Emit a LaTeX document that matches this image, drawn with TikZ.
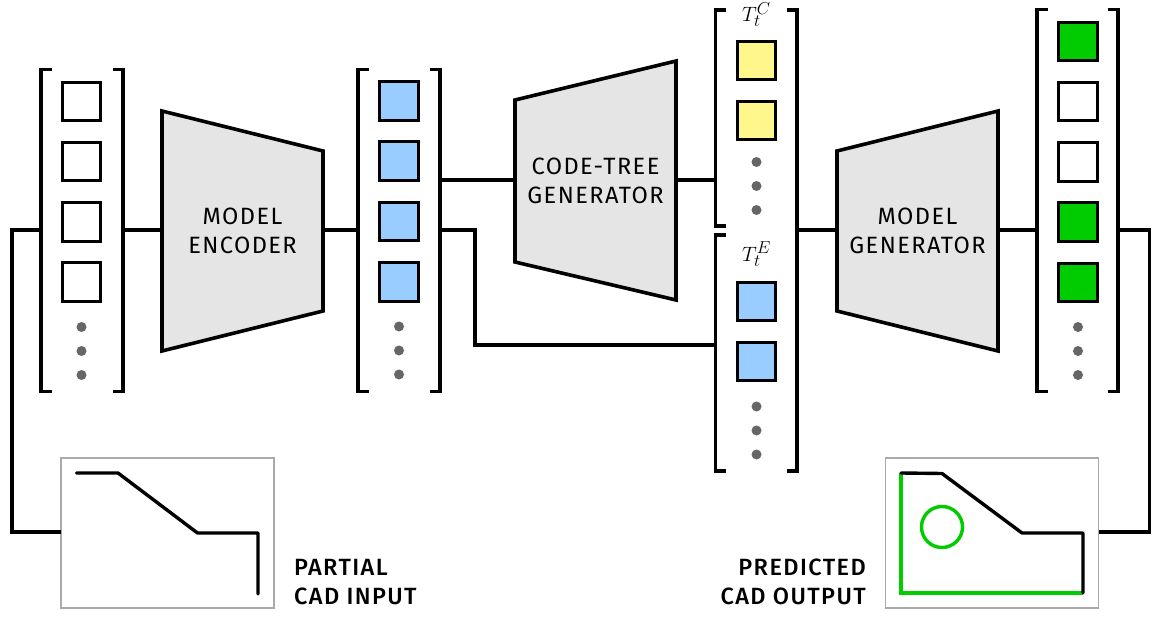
\documentclass[tikz,border=0pt]{standalone}
\usepackage{fontspec}
\setmainfont{Fira Sans}
\newfontfamily\lblfont[LetterSpace=6]{Fira Sans}
\newfontfamily\capfont[LetterSpace=6]{Fira Sans Medium}
\DeclareMathSizes{20}{20.74}{17.28}{14.4}
\definecolor{bluefill}{HTML}{99CCFF}
\definecolor{yellowfill}{HTML}{FFF68C}
\definecolor{greenfill}{HTML}{00CC00}
\definecolor{trapfill}{HTML}{E5E5E5}
\definecolor{dotgray}{HTML}{666666}
\definecolor{framegray}{HTML}{AAAAAA}
\tikzset{
  wire/.style={line width=3.4pt,line join=miter},
  sq/.style={draw=black,line width=3pt,minimum size=38.5pt,inner sep=0pt,outer sep=0pt},
  sqw/.style={sq,fill=white},
  sqb/.style={sq,fill=bluefill},
  sqy/.style={sq,fill=yellowfill},
  sqg/.style={sq,fill=greenfill},
  vdot/.style={circle,fill=dotgray,minimum size=10pt,inner sep=0pt,outer sep=0pt},
  colbox/.style={inner sep=0pt,outer sep=0pt,minimum width=#1},
  trap/.style={draw=black,fill=trapfill,line width=3.6pt,line join=miter},
  traplabel/.style={inner sep=0pt,outer sep=0pt,minimum width=161pt,minimum height=160pt,align=center,
    font=\fontsize{23.6}{28.5}\selectfont\lblfont},
  frame/.style={draw=framegray,line width=1.4pt,fill=white,inner sep=0pt,outer sep=0pt,minimum width=213pt,minimum height=150pt},
  sideflabel/.style={inner sep=0pt,font=\fontsize{23.5}{29}\selectfont\capfont},
  treelabel/.style={inner sep=0pt,font=\fontsize{20}{22}\selectfont},
  sketch/.style={line width=3.4pt,line cap=round,line join=round},
  greensketch/.style={draw=greenfill,line width=3.4pt,line cap=butt,line join=miter}
}
\newcommand{\colbracket}[4]{% x left, x right, y top, y bottom
  \draw[wire] (#1+10.5,#3) -- (#1,#3) -- (#1,#4) -- (#1+10.5,#4);
  \draw[wire] (#2-10.5,#3) -- (#2,#3) -- (#2,#4) -- (#2-10.5,#4);}
\begin{document}
\begin{tikzpicture}[x=1pt,y=-1pt]
\useasboundingbox (0,0) rectangle (1154,617);
\fill[white] (0,0) rectangle (1154,617);

% column anchors
\node[colbox=82pt,minimum height=322pt] (c1) at (82,230) {};
\node[colbox=82pt,minimum height=322pt] (c2) at (399,230) {};
\node[colbox=81.5pt,minimum height=461pt] (c3) at (756.25,240.5) {};
\node[colbox=81pt,minimum height=382pt] (c4) at (1077.5,200.5) {};

% column 1
\colbracket{41}{123}{69.5}{391.5}
\node[sqw] (a1) at (81.5,101.5) {};
\node[sqw] (a2) at (81.5,161.5) {};
\node[sqw] (a3) at (81.5,222) {};
\node[sqw] (a4) at (81.5,282) {};
\node[vdot] (ad1) at (81.5,327) {};
\node[vdot] (ad2) at (81.5,351) {};
\node[vdot] (ad3) at (81.5,375) {};

% column 2
\colbracket{358}{440}{69.5}{391.5}
\node[sqb] (b1) at (399,101) {};
\node[sqb] (b2) at (399,161) {};
\node[sqb] (b3) at (399,221.5) {};
\node[sqb] (b4) at (399,282) {};
\node[vdot] (bd1) at (399,326.5) {};
\node[vdot] (bd2) at (399,350.5) {};
\node[vdot] (bd3) at (399,374.5) {};

% column 3 (two left brackets, one right bracket)
\draw[wire] (726,10) -- (715.5,10) -- (715.5,226) -- (726,226);
\draw[wire] (726,235) -- (715.5,235) -- (715.5,471) -- (726,471);
\draw[wire] (787,10) -- (797,10) -- (797,471) -- (787,471);
\node[treelabel] (tc) at (756.5,14.5) {$T_t^C$};
\node[sqy] (y1) at (756.5,60.5) {};
\node[sqy] (y2) at (756.5,120.5) {};
\node[vdot] (yd1) at (756.5,162) {};
\node[vdot] (yd2) at (756.5,186) {};
\node[vdot] (yd3) at (756.5,210) {};
\node[treelabel] (te) at (756.5,254) {$T_t^E$};
\node[sqb] (e1) at (756.5,301.5) {};
\node[sqb] (e2) at (756.5,361.5) {};
\node[vdot] (ed1) at (756.5,406.5) {};
\node[vdot] (ed2) at (756.5,430.5) {};
\node[vdot] (ed3) at (756.5,454.5) {};

% column 4
\colbracket{1037}{1118}{9.5}{391.5}
\node[sqg] (g1) at (1078,41.5) {};
\node[sqw] (g2) at (1078,101.5) {};
\node[sqw] (g3) at (1078,162) {};
\node[sqg] (g4) at (1078,222) {};
\node[sqg] (g5) at (1078,282.5) {};
\node[vdot] (gd1) at (1078,327) {};
\node[vdot] (gd2) at (1078,351) {};
\node[vdot] (gd3) at (1078,375) {};

% trapezoids
\draw[trap] (162,111) -- (323,151) -- (323,311) -- (162,351) -- cycle;
\draw[trap] (515,100) -- (676,61) -- (676,300) -- (515,262) -- cycle;
\draw[trap] (837,151) -- (998,111) -- (998,351) -- (837,311) -- cycle;
\node[traplabel] (enc) at (242.5,231) {MODEL\\ENCODER};
\node[traplabel] (gen) at (595.5,181) {CODE-TREE\\GENERATOR};
\node[traplabel] (dec) at (917.5,231) {MODEL\\GENERATOR};

% CAD frames
\node[frame] (inp) at (167.5,533) {};
\node[frame] (out) at (992,533) {};
\draw[sketch] (76.5,473) -- (118,473) -- (197.5,533) -- (258,533) -- (258,594);
\draw[greensketch] (901,473) -- (901,593) -- (1083,593);
\draw[greensketch] (942,527) circle (20.5);
\draw[sketch] (901,473) -- (942,473.5) -- (1022,533) -- (1083,533) -- (1083,593);

\node[sideflabel,anchor=west] (l1) at (294,567) {PARTIAL};
\node[sideflabel,anchor=west] (l2) at (294,596) {CAD INPUT};
\node[sideflabel,anchor=east] (l3) at (866,567) {PREDICTED};
\node[sideflabel,anchor=east] (l4) at (866,596) {CAD OUTPUT};

% connectors
\coordinate (lb) at (12,230);
\coordinate (lc) at (12,532);
\coordinate (rb) at (1149.5,230);
\coordinate (rc) at (1149.5,532);
\coordinate (ma) at (475,230);
\coordinate (mb) at (475,345);
\draw[wire] (c1.west) -- (lb) -- (lc) -- (lc -| inp.west);
\draw[wire] (c1.east) -- (c1.east -| enc.west);
\draw[wire] (c2.west -| enc.east) -- (c2.west);
\draw[wire] (c2.east |- 0,180) -- (gen.west |- 0,180);
\draw[wire] (gen.east |- 0,180) -- (c3.west |- 0,180);
\draw[wire] (c2.east) -- (ma) -- (mb) -- (mb -| c3.west);
\draw[wire] (c3.east |- 0,230) -- (dec.west |- 0,230);
\draw[wire] (dec.east |- 0,230) -- (c4.west |- 0,230);
\draw[wire] (c4.east |- 0,230) -- (rb) -- (rc) -- (rc -| out.east);
\end{tikzpicture}
\end{document}
